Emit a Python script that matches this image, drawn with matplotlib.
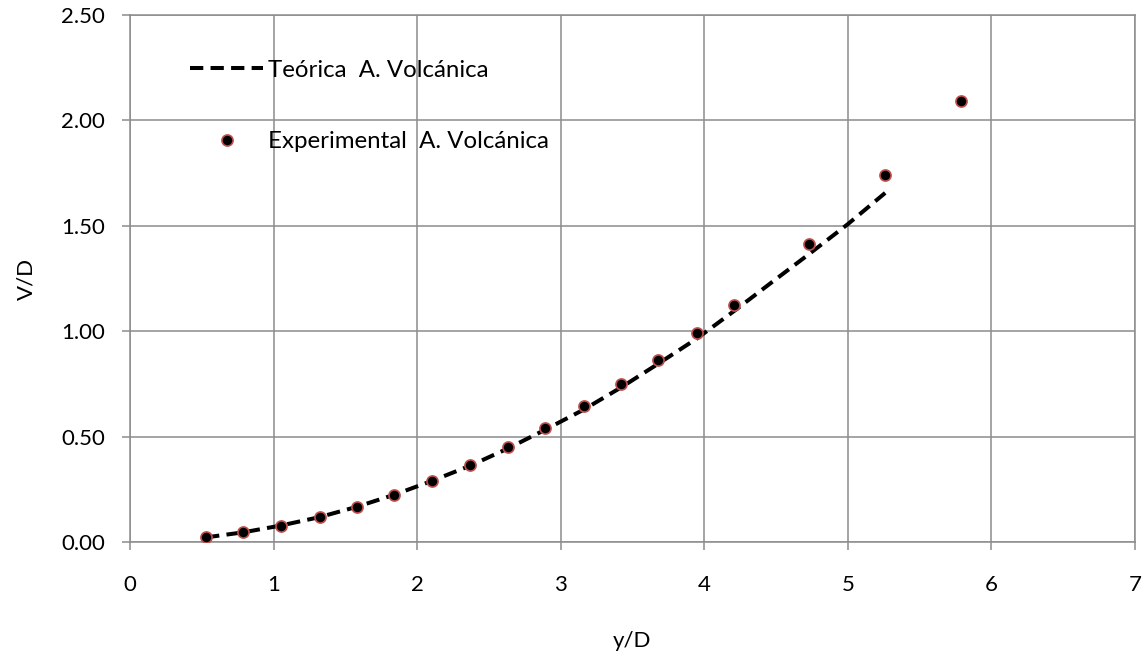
import matplotlib
matplotlib.use("Agg")
import matplotlib.pyplot as plt
from matplotlib.ticker import FormatStrFormatter

plt.rcParams['font.family'] = ['Lato', 'DejaVu Sans']

# Experimental series
exp_x = [0.53, 0.79, 1.05, 1.32, 1.58, 1.84, 2.10, 2.37, 2.63, 2.89,
         3.16, 3.42, 3.68, 3.95, 4.21, 4.73, 5.26, 5.79]
exp_v = [0.022, 0.046, 0.077, 0.117, 0.166, 0.224, 0.291, 0.366, 0.449, 0.541,
         0.643, 0.750, 0.863, 0.993, 1.125, 1.415, 1.739, 2.092]

# Theoretical curve
teo_x = [0.53, 0.79, 1.05, 1.32, 1.58, 1.84, 2.10, 2.37, 2.63, 2.89,
         3.16, 3.42, 3.68, 3.95, 4.21, 4.47, 4.73, 5.00, 5.26]
teo_v = [0.022, 0.046, 0.078, 0.118, 0.167, 0.224, 0.289, 0.362, 0.443, 0.532,
         0.628, 0.733, 0.846, 0.966, 1.097, 1.232, 1.366, 1.508, 1.656]

x_ticks = [0, 1, 2, 3, 4, 5, 6, 7]
y_ticks = [0.0, 0.5, 1.0, 1.5, 2.0, 2.5]

W, H = 1145, 653
fig = plt.figure(figsize=(W / 100, H / 100), dpi=100)
ax = fig.add_axes([130 / W, 1 - 542 / H, (1135 - 130) / W, (542 - 15) / H])

grid_c = '#8c8c8c'
ax.plot(teo_x, teo_v, color='black', lw=2.9, dashes=(3.3, 1.8),
        label='Teórica  A. Volcánica', zorder=3)
ax.plot(exp_x, exp_v, ls='none', marker='o', ms=8, mfc='black',
        mec='#c0504d', mew=1.2, label='Experimental  A. Volcánica', zorder=4)

ax.set_xlim(0, 7)
ax.set_ylim(0, 2.5)
ax.set_xticks(x_ticks)
ax.set_yticks(y_ticks)
ax.yaxis.set_major_formatter(FormatStrFormatter('%.2f'))
ax.grid(True, color=grid_c, lw=1.1)
ax.set_axisbelow(True)
for s in ax.spines.values():
    s.set_color(grid_c)
    s.set_linewidth(1.1)
ax.tick_params(axis='both', direction='out', length=6, width=1.1, color=grid_c,
               labelsize=16, labelcolor='black')
ax.tick_params(axis='x', pad=18)
ax.tick_params(axis='y', pad=12)

ax.set_xlabel('y/D', fontsize=16, labelpad=26)
ax.set_ylabel('V/D', fontsize=16, labelpad=18)

ax.legend(loc='center left', bbox_to_anchor=(190 / W, 1 - 106 / H),
          bbox_transform=fig.transFigure, frameon=False, fontsize=17.3,
          borderpad=0, borderaxespad=0, handlelength=3.05, handletextpad=0.2,
          labelspacing=2.1)

fig.savefig('out.png', dpi=100)
